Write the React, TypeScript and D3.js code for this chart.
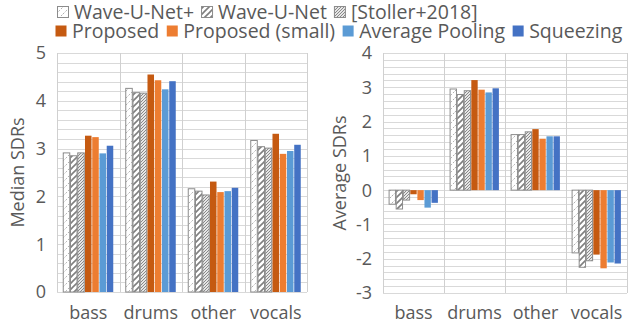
import * as d3 from "d3";
import { useEffect, useRef } from "react";

const categories = ["bass", "drums", "other", "vocals"];
const seriesNames = [
  "Wave-U-Net+",
  "Wave-U-Net",
  "[Stoller+2018]",
  "Proposed",
  "Proposed (small)",
  "Average Pooling",
  "Squeezing",
];

// median SDRs per category (bass, drums, other, vocals)
const waveUNetPlusMedian = [2.91, 4.26, 2.16, 3.17];
const waveUNetMedian = [2.85, 4.17, 2.11, 3.04];
const stollerMedian = [2.91, 4.16, 2.03, 3.01];
const proposedMedian = [3.27, 4.55, 2.31, 3.31];
const proposedSmallMedian = [3.24, 4.43, 2.09, 2.89];
const avgPoolingMedian = [2.9, 4.24, 2.11, 2.95];
const squeezingMedian = [3.06, 4.41, 2.18, 3.08];

// average SDRs per category
const waveUNetPlusAverage = [-0.41, 2.95, 1.62, -1.83];
const waveUNetAverage = [-0.55, 2.79, 1.62, -2.25];
const stollerAverage = [-0.29, 2.9, 1.7, -2.06];
const proposedAverage = [-0.12, 3.21, 1.78, -1.88];
const proposedSmallAverage = [-0.29, 2.93, 1.5, -2.28];
const avgPoolingAverage = [-0.51, 2.85, 1.57, -2.11];
const squeezingAverage = [-0.37, 2.97, 1.57, -2.14];

const medianTicks = [0, 1, 2, 3, 4, 5];
const averageTicks = [-3, -2, -1, 0, 1, 2, 3, 4];

const fills = [
  "url(#hatchLight)",
  "url(#hatchWide)",
  "url(#hatchDense)",
  "#C55A11",
  "#ED7D31",
  "#5B9BD5",
  "#4472C4",
];

const FONT = "'Open Sans', sans-serif";

const App = () => {
  const ref = useRef<SVGSVGElement>(null);

  useEffect(() => {
    document.body.style.margin = "0";
    const svg = d3.select(ref.current);
    svg.selectAll("*").remove();
    const width = 628;
    const height = 325;
    svg.attr("width", width).attr("height", height);

    // hatch patterns for the baseline models
    const defs = svg.append("defs");
    const light = defs
      .append("pattern")
      .attr("id", "hatchLight")
      .attr("patternUnits", "userSpaceOnUse")
      .attr("width", 7)
      .attr("height", 7);
    light.append("rect").attr("width", 7).attr("height", 7).attr("fill", "#fff");
    light
      .append("path")
      .attr("d", "M0,7 L7,0 M-1,1 L1,-1 M6,8 L8,6")
      .attr("stroke", "#a6a6a6")
      .attr("stroke-width", 0.9)
      .attr("stroke-dasharray", "2,1.5");

    const wide = defs
      .append("pattern")
      .attr("id", "hatchWide")
      .attr("patternUnits", "userSpaceOnUse")
      .attr("width", 6)
      .attr("height", 6);
    wide.append("rect").attr("width", 6).attr("height", 6).attr("fill", "#fff");
    wide
      .append("path")
      .attr("d", "M0,6 L6,0 M-1,1 L1,-1 M5,7 L7,5")
      .attr("stroke", "#7f7f7f")
      .attr("stroke-width", 1.6);

    const dense = defs
      .append("pattern")
      .attr("id", "hatchDense")
      .attr("patternUnits", "userSpaceOnUse")
      .attr("width", 3)
      .attr("height", 3);
    dense.append("rect").attr("width", 3).attr("height", 3).attr("fill", "#e6e6e6");
    dense
      .append("path")
      .attr("d", "M0,3 L3,0 M-1,1 L1,-1 M2,4 L4,2")
      .attr("stroke", "#7f7f7f")
      .attr("stroke-width", 0.9);

    const drawPanel = (
      values: number[][],
      ticks: number[],
      box: { left: number; right: number; top: number; bottom: number },
      title: string,
      titleX: number,
      tickX: number
    ) => {
      const g = svg.append("g");
      const yScale = d3
        .scaleLinear()
        .domain([ticks[0], ticks[ticks.length - 1]])
        .range([box.bottom, box.top]);
      const xScale = d3
        .scaleBand<string>()
        .domain(categories)
        .range([box.left, box.right])
        .paddingInner(0.2)
        .paddingOuter(0.1);
      const inner = d3
        .scaleBand<number>()
        .domain(d3.range(seriesNames.length))
        .range([0, xScale.bandwidth()])
        .paddingInner(0.1);

      // minor gridlines every 0.2
      const grid = d3.range(ticks[0], ticks[ticks.length - 1] + 0.001, 0.2);
      g.selectAll(".hgrid")
        .data(grid)
        .enter()
        .append("line")
        .attr("x1", box.left)
        .attr("x2", box.right)
        .attr("y1", (d) => Math.round(yScale(d)) + 0.5)
        .attr("y2", (d) => Math.round(yScale(d)) + 0.5)
        .attr("stroke", "#d9d9d9")
        .attr("stroke-width", 1);

      const step = xScale.step();
      g.selectAll(".vgrid")
        .data(d3.range(categories.length + 1))
        .enter()
        .append("line")
        .attr("x1", (i) => Math.round(box.left + i * step) + 0.5)
        .attr("x2", (i) => Math.round(box.left + i * step) + 0.5)
        .attr("y1", box.top)
        .attr("y2", box.bottom)
        .attr("stroke", "#d0d0d0")
        .attr("stroke-width", 1);

      // bars
      values.forEach((series, si) => {
        g.selectAll(`.bar${si}`)
          .data(series)
          .enter()
          .append("rect")
          .attr("x", (_, ci) => xScale(categories[ci])! + inner(si)!)
          .attr("width", inner.bandwidth())
          .attr("y", (d) => yScale(Math.max(0, d)))
          .attr("height", (d) => Math.abs(yScale(d) - yScale(0)))
          .attr("fill", fills[si])
          .attr("stroke", si < 3 ? "#8c8c8c" : "none")
          .attr("stroke-width", si < 3 ? 1 : 0);
      });

      // y tick labels
      g.selectAll(".ytick")
        .data(ticks)
        .enter()
        .append("text")
        .attr("x", tickX)
        .attr("y", (d) => yScale(d))
        .attr("dy", "0.36em")
        .attr("text-anchor", "end")
        .attr("font-family", FONT)
        .attr("font-size", 18)
        .attr("fill", "#595959")
        .text((d) => d);

      // category labels
      g.selectAll(".xtick")
        .data(categories)
        .enter()
        .append("text")
        .attr("x", (d) => xScale(d)! + xScale.bandwidth() / 2)
        .attr("y", 319)
        .attr("text-anchor", "middle")
        .attr("font-family", FONT)
        .attr("font-size", 18)
        .attr("fill", "#595959")
        .text((d) => d);

      g.append("text")
        .attr("transform", `translate(${titleX},${(box.top + box.bottom) / 2}) rotate(-90)`)
        .attr("text-anchor", "middle")
        .attr("font-family", FONT)
        .attr("font-size", 18)
        .attr("fill", "#595959")
        .text(title);
    };

    drawPanel(
      [
        waveUNetPlusMedian,
        waveUNetMedian,
        stollerMedian,
        proposedMedian,
        proposedSmallMedian,
        avgPoolingMedian,
        squeezingMedian,
      ],
      medianTicks,
      { left: 57, right: 307, top: 53, bottom: 292 },
      "Median SDRs",
      24,
      46
    );

    drawPanel(
      [
        waveUNetPlusAverage,
        waveUNetAverage,
        stollerAverage,
        proposedAverage,
        proposedSmallAverage,
        avgPoolingAverage,
        squeezingAverage,
      ],
      averageTicks,
      { left: 383, right: 627, top: 53, bottom: 293 },
      "Average SDRs",
      346,
      372
    );

    // legend, two rows
    const legendRows = [
      { items: [0, 1, 2], x: 57, y: 12 },
      { items: [3, 4, 5, 6], x: 55, y: 31 },
    ];
    legendRows.forEach((row) => {
      let x = row.x;
      row.items.forEach((si) => {
        svg
          .append("rect")
          .attr("x", x + 0.5)
          .attr("y", row.y - 5.5)
          .attr("width", 11)
          .attr("height", 11)
          .attr("fill", fills[si])
          .attr("stroke", si < 3 ? "#8c8c8c" : "none");
        const t = svg
          .append("text")
          .attr("x", x + 17)
          .attr("y", row.y)
          .attr("dy", "0.36em")
          .attr("font-family", FONT)
          .attr("font-size", 19.5)
          .attr("fill", "#595959")
          .text(seriesNames[si]);
        const w = (t.node() as SVGTextElement).getComputedTextLength();
        x = x + 17 + w + 7;
      });
    });
  }, []);

  return <svg ref={ref}></svg>;
};

export default App;
